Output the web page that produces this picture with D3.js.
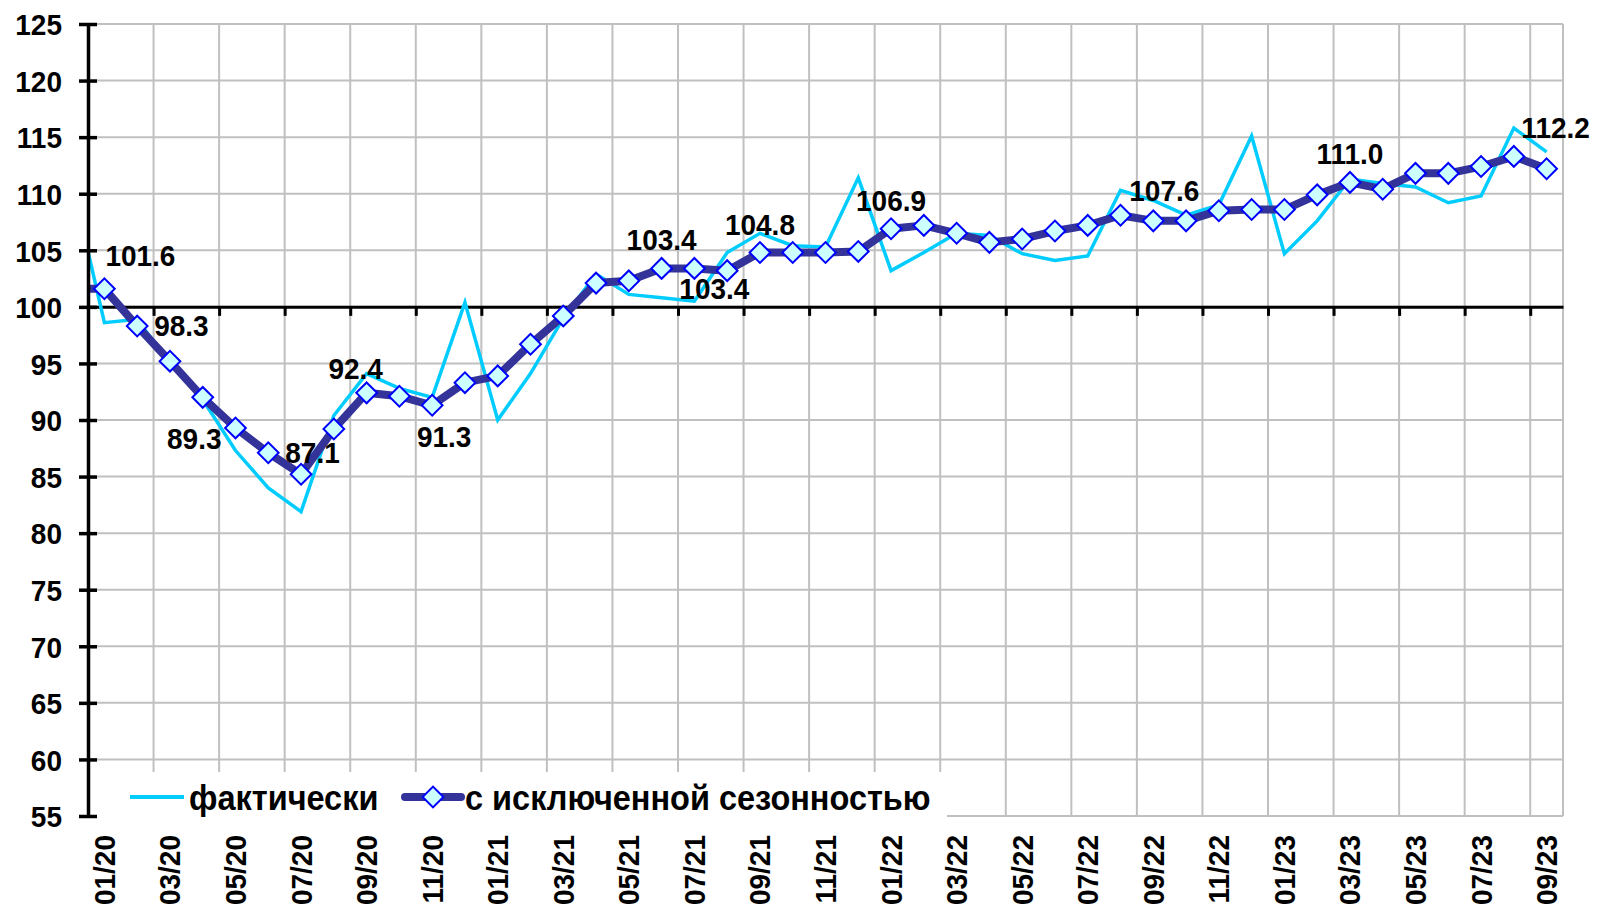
<!DOCTYPE html>
<html>
<head>
<meta charset="utf-8">
<script src="https://cdn.jsdelivr.net/npm/d3@7"></script>
<style>
  body { margin: 0; background: #fff; }
  text { font-family: "Liberation Sans", Arial, sans-serif; font-weight: bold; fill: #000; }
</style>
</head>
<body>
<svg id="chart" width="1598" height="907"></svg>
<script>
// --- Data ---
const months = [
  "01/20","02/20","03/20","04/20","05/20","06/20","07/20","08/20","09/20","10/20","11/20","12/20",
  "01/21","02/21","03/21","04/21","05/21","06/21","07/21","08/21","09/21","10/21","11/21","12/21",
  "01/22","02/22","03/22","04/22","05/22","06/22","07/22","08/22","09/22","10/22","11/22","12/22",
  "01/23","02/23","03/23","04/23","05/23","06/23","07/23","08/23","09/23"
];

// фактически
const actual = [
  98.6, 98.9, 95.0, 91.8, 87.3, 84.0, 81.9, 90.4, 94.1, 92.8, 92.0, 100.4,
  90.0, 94.1, 99.0, 102.9, 101.1, 100.8, 100.5, 104.8, 106.5, 105.4, 105.3, 111.4,
  103.2, 104.8, 106.5, 106.3, 104.7, 104.1, 104.5, 110.3, 109.4, 108.1, 109.0, 115.1,
  104.7, 107.6, 111.3, 110.9, 110.6, 109.2, 109.8, 115.8, 113.7
];

// с исключенной сезонностью
const seasonAdj = [
  101.6, 98.3, 95.2, 92.0, 89.3, 87.1, 85.2, 89.2, 92.4, 92.1, 91.3, 93.3,
  93.9, 96.7, 99.2, 102.1, 102.3, 103.4, 103.4, 103.2, 104.8, 104.8, 104.8, 104.9,
  106.9, 107.2, 106.5, 105.7, 106.0, 106.7, 107.2, 108.1, 107.6, 107.6, 108.5, 108.6,
  108.6, 109.9, 111.0, 110.4, 111.8, 111.8, 112.4, 113.3, 112.2
];

// 12/19 values, only the clipped piece at the left edge shows
const prevActual = 111.2;
const prevSeasonAdj = 101.6;

const yTicks = [55, 60, 65, 70, 75, 80, 85, 90, 95, 100, 105, 110, 115, 120, 125];
const xTickLabels = months.filter((m, i) => i % 2 === 0);

// labelled points of the adjusted series and where the label sits
const labelMonths = ["01/20","02/20","05/20","06/20","09/20","11/20","06/21","07/21","09/21","01/22","09/22","03/23","09/23"];
const labelPlaces = ["topright","right","left","right","topleft","bottom","top","bottomright","top","top","topshift","top","topright2"];

const seriesNames = ["фактически", "с исключенной сезонностью"];

// --- Layout ---
const svg = d3.select("#chart");
const plotL = 88, plotR = 1563, plotT = 24, plotB = 816;
const tall = 1.07; // text in the original is a bit taller than plain Arial

const x = d3.scaleBand().domain(months).range([plotL, plotR]);
const bw = x.bandwidth();
const xc = m => x(m) + bw / 2;
const xi = d3.scaleLinear().domain([0, months.length]).range([plotL, plotR]);
const y = d3.scaleLinear().domain([55, 125]).range([plotB, plotT]);

const grid = "#c0c0c0";

// horizontal gridlines
svg.append("g").selectAll("line").data(yTicks).join("line")
  .attr("x1", plotL).attr("x2", plotR)
  .attr("y1", d => y(d)).attr("y2", d => y(d))
  .attr("stroke", grid).attr("stroke-width", 2);

// vertical gridlines every two months + right border
const vGrid = d3.range(2, months.length, 2).map(i => xi(i)).concat([plotR]);
svg.append("g").selectAll("line").data(vGrid).join("line")
  .attr("x1", d => d).attr("x2", d => d)
  .attr("y1", plotT).attr("y2", plotB)
  .attr("stroke", grid).attr("stroke-width", 2);

// x axis crossing at 100
const xAxis = d3.axisBottom(xi)
  .tickValues(d3.range(0, months.length, 2))
  .tickFormat("")
  .tickSizeInner(9).tickSizeOuter(0);
const gx = svg.append("g").attr("transform", `translate(0,${y(100)})`).call(xAxis);
gx.select(".domain").attr("stroke", "#000").attr("stroke-width", 3);
gx.selectAll(".tick line").attr("stroke", "#000").attr("stroke-width", 3);

// series (clipped to plot area)
svg.append("clipPath").attr("id", "plotclip")
  .append("rect").attr("x", plotL).attr("y", 0).attr("width", plotR - plotL).attr("height", 907);

const prevX = xc(months[0]) - bw;
const line = d3.line().x(d => d[0]).y(d => y(d[1]));
const actualPts = [[prevX, prevActual]].concat(actual.map((v, i) => [xc(months[i]), v]));
const saPts = [[prevX, prevSeasonAdj]].concat(seasonAdj.map((v, i) => [xc(months[i]), v]));

const series = svg.append("g").attr("clip-path", "url(#plotclip)");
series.append("path").attr("d", line(actualPts))
  .attr("fill", "none").attr("stroke", "#00ccff").attr("stroke-width", 3.5)
  .attr("stroke-linejoin", "miter");
series.append("path").attr("d", line(saPts))
  .attr("fill", "none").attr("stroke", "#333399").attr("stroke-width", 8)
  .attr("stroke-linejoin", "round");

const diamond = d3.symbol().type(d3.symbolSquare).size(215);
svg.append("g").selectAll("path").data(seasonAdj).join("path")
  .attr("d", diamond)
  .attr("transform", (d, i) => `translate(${xc(months[i])},${y(d)}) rotate(45)`)
  .attr("fill", "#ccffff").attr("stroke", "#0000ff").attr("stroke-width", 2);

// y axis
const yAxis = d3.axisLeft(y).tickValues(yTicks).tickSizeInner(9).tickSizeOuter(0).tickPadding(0);
const gy = svg.append("g").attr("transform", `translate(${plotL},0)`).call(yAxis);
gy.select(".domain").attr("stroke", "#000").attr("stroke-width", 3.5);
gy.selectAll(".tick line").attr("stroke", "#000").attr("stroke-width", 3.5).attr("x1", 9);
gy.selectAll(".tick text").attr("x", -26).attr("dy", "0.36em")
  .attr("transform", `scale(1,${tall})`)
  .style("font-size", "28px").style("font-family", "'Liberation Sans', Arial, sans-serif")
  .style("font-weight", "bold").attr("fill", "#000");

// x tick labels, rotated
svg.append("g").selectAll("text").data(xTickLabels).join("text")
  .attr("transform", d => `translate(${xc(d) + 10.5},835) rotate(-90) scale(1,${tall})`)
  .attr("text-anchor", "end")
  .style("font-size", "28px")
  .text(d => d);

// legend
const lg = svg.append("g");
lg.append("rect").attr("x", 97).attr("y", 772).attr("width", 850).attr("height", 56).attr("fill", "#fff");
lg.append("line").attr("x1", 130).attr("x2", 184).attr("y1", 797).attr("y2", 797)
  .attr("stroke", "#00ccff").attr("stroke-width", 4);
lg.append("text").attr("transform", `translate(189,810) scale(1,${tall})`)
  .style("font-size", "32.5px").text(seriesNames[0]);
lg.append("line").attr("x1", 405).attr("x2", 461).attr("y1", 797).attr("y2", 797)
  .attr("stroke", "#333399").attr("stroke-width", 8).attr("stroke-linecap", "round");
lg.append("path").attr("d", diamond).attr("transform", "translate(433,797) rotate(45)")
  .attr("fill", "#ccffff").attr("stroke", "#0000ff").attr("stroke-width", 2);
lg.append("text").attr("transform", `translate(465,810) scale(1,${tall})`)
  .style("font-size", "32.5px").text(seriesNames[1]);

// data labels
const fmt = d3.format(".1f");
const place = {
  top:         { dx: 0,   dy: -18, anchor: "middle" },
  topleft:     { dx: -11, dy: -14, anchor: "middle" },
  topshift:    { dx: 11,  dy: -20, anchor: "middle" },
  topright:    { dx: 1,   dy: -23, anchor: "start" },
  topright2:   { dx: 9,   dy: -31, anchor: "middle" },
  bottom:      { dx: 12,  dy: 42,  anchor: "middle" },
  bottomright: { dx: 20,  dy: 31,  anchor: "middle" },
  right:       { dx: 17,  dy: 10,  anchor: "start" },
  left:        { dx: -14, dy: 21,  anchor: "end" }
};
svg.append("g").selectAll("text").data(labelMonths).join("text")
  .each(function (m, k) {
    const i = months.indexOf(m);
    const p = place[labelPlaces[k]];
    d3.select(this)
      .attr("transform", `translate(${xc(m) + p.dx},${y(seasonAdj[i]) + p.dy}) scale(1,${tall})`)
      .attr("text-anchor", p.anchor)
      .style("font-size", "28px")
      .text(fmt(seasonAdj[i]));
  });
</script>
</body>
</html>
